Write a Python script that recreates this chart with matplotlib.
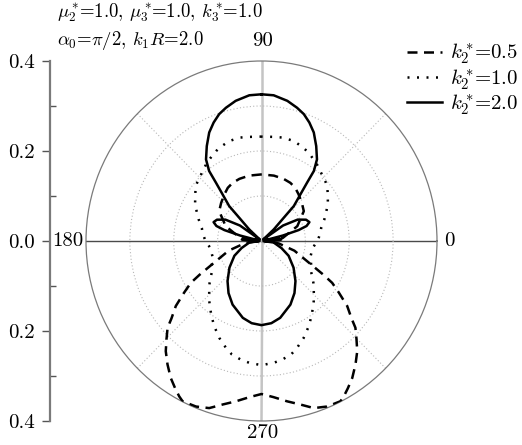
import numpy as np
import matplotlib
matplotlib.use("Agg")
import matplotlib.pyplot as plt
from matplotlib.ticker import FixedLocator

plt.rcParams['font.family'] = 'cmr10'
plt.rcParams['mathtext.fontset'] = 'cm'
plt.rcParams['axes.unicode_minus'] = False
plt.rcParams['font.size'] = 15

# far-field amplitude, left half (90..270 deg); the pattern is symmetric about 90-270
th_05 = [90, 101, 110, 117, 123, 129, 137.4, 145.5, 158, 172, 180, 188, 196, 204, 208,
         210, 213, 216.5, 220, 222, 225, 228.3, 232, 235.8, 239, 241.5, 243.2, 247.9,
         252.2, 256.3, 260.7, 265.5, 270]
r_05 = [0.148, 0.148, 0.147, 0.145, 0.141, 0.134, 0.125, 0.117, 0.088, 0.049, 0.01, 0.04,
        0.078, 0.118, 0.16, 0.186, 0.21, 0.243, 0.268, 0.288, 0.306, 0.328, 0.348, 0.368,
        0.382, 0.393, 0.399, 0.397, 0.39, 0.374, 0.361, 0.348, 0.34]

th_10 = [90, 96.8, 102, 108.3, 114, 117.4, 121, 126.6, 133, 137.5, 141, 145.6, 151,
         155.9, 161.5, 168, 172, 178.5, 187.5, 190.8, 198, 205, 210.6, 218, 221, 228.3,
         235, 240.4, 246, 251.2, 255, 260, 264, 270]
r_10 = [0.232, 0.233, 0.235, 0.234, 0.229, 0.225, 0.22, 0.212, 0.202, 0.197, 0.193, 0.183,
        0.173, 0.162, 0.151, 0.139, 0.136, 0.129, 0.118, 0.117, 0.117, 0.125, 0.131, 0.15,
        0.158, 0.179, 0.2, 0.218, 0.236, 0.251, 0.261, 0.268, 0.272, 0.276]

th_20 = [90, 94.9, 100.7, 105.3, 108.9, 112.5, 116.3, 120.6, 124.9, 127.5, 128.7, 130.6,
         133.5, 134.5, 137.4, 140, 145, 150, 155, 159, 162, 164, 166, 168, 172, 176, 180,
         183, 187, 199, 208, 219, 229, 237, 245, 256, 263, 270]
r_20 = [0.326, 0.325, 0.317, 0.307, 0.298, 0.285, 0.269, 0.245, 0.221, 0.196, 0.166,
        0.136, 0.107, 0.072, 0.038, 0.005, 0.06, 0.095, 0.112, 0.117, 0.108, 0.088, 0.05,
        0.01, 0.04, 0.045, 0.02, 0.005, 0.028, 0.048, 0.07, 0.094, 0.118, 0.138, 0.156,
        0.176, 0.184, 0.187]

labels = [r'$k_2^*\!$=0.5', r'$k_2^*\!$=1.0', r'$k_2^*\!$=2.0']
styles = [(0, (4, 2.6)), (0, (0.8, 3.0)), '-']


def full_pattern(th, r):
    # mirror the left half onto the right half
    th = np.array(th, dtype=float)
    r = np.array(r, dtype=float)
    th_all = np.concatenate([th, (180 - th[::-1][1:])])
    r_all = np.concatenate([r, r[::-1][1:]])
    return np.radians(th_all), r_all


W, H = 522, 445
fig = plt.figure(figsize=(W / 100, H / 100), dpi=100)

x0, x1, ytop, ybot = 86, 437, 61, 421
ax = fig.add_axes([x0 / W, 1 - ybot / H, (x1 - x0) / W, (ybot - ytop) / H],
                  projection='polar')
ax.set_aspect('auto')
ax.set_ylim(0, 0.4)
ax.set_rticks([0.1, 0.2, 0.3])
ax.set_yticklabels([])
ax.set_xticks(np.radians([45, 135, 225, 315]))
ax.set_xticklabels([])
ax.grid(True, color='#b8b8b8', ls=(0, (1, 2)), lw=0.8)
ax.spines['polar'].set_color('#7a7a7a')
ax.spines['polar'].set_linewidth(0.9)

# axis lines through the centre
ax.plot([np.pi / 2, np.pi / 2], [0, 0.4], color='#c4c4c4', lw=1.8, zorder=1)
ax.plot([3 * np.pi / 2, 3 * np.pi / 2], [0, 0.4], color='#c4c4c4', lw=1.8, zorder=1)
ax.plot([0, 0], [0, 0.4], color='#4a4a4a', lw=1.0, zorder=1)
ax.plot([np.pi, np.pi], [0, 0.4], color='#4a4a4a', lw=1.0, zorder=1)

handles = []
for (th, r), lab, ls in zip([(th_05, r_05), (th_10, r_10), (th_20, r_20)], labels, styles):
    t, rr = full_pattern(th, r)
    h, = ax.plot(t, rr, color='black', lw=1.8, ls=ls, label=lab, zorder=3)
    handles.append(h)


def px(x, y):
    return x / W, 1 - y / H


# angle labels
fig.text(*px(263, 41), '90', ha='center', va='center')
fig.text(*px(449, 241), '0', ha='center', va='center')
fig.text(*px(68, 241), '180', ha='center', va='center')
fig.text(*px(263, 433), '270', ha='center', va='center')

# radial scale on the left
ax2 = fig.add_axes([50 / W, 1 - ybot / H, 0.001, (ybot - ytop) / H])
ax2.set_ylim(-0.4, 0.4)
for s in ['top', 'right', 'bottom']:
    ax2.spines[s].set_visible(False)
ax2.spines['left'].set_color('#7a7a7a')
ax2.spines['left'].set_linewidth(1.6)
ax2.set_xticks([])
ax2.set_yticks([-0.4, -0.2, 0.0, 0.2, 0.4])
ax2.set_yticklabels(['0.4', '0.2', '0.0', '0.2', '0.4'])
ax2.yaxis.set_minor_locator(FixedLocator([-0.3, -0.1, 0.1, 0.3]))
ax2.tick_params(axis='y', which='major', length=6, width=1.0, color='#555555', pad=5)
ax2.tick_params(axis='y', which='minor', length=4, width=1.0, color='#555555',
                direction='in')
ax2.patch.set_visible(False)

fig.text(*px(57, 13), r'$\mu_2^*\!$=1.0, $\mu_3^*\!$=1.0, $k_3^*\!$=1.0',
         ha='left', va='center', fontsize=13.5)
fig.text(*px(57, 40), r'$\alpha_0$=$\pi/2$, $k_1R$=2.0', ha='left', va='center',
         fontsize=13.5)

fig.legend(handles=handles, loc='upper left', bbox_to_anchor=(407 / W, 1 - 42 / H),
           frameon=False, handlelength=1.7, handletextpad=0.35, labelspacing=0.05,
           borderaxespad=0, borderpad=0)

fig.savefig('out.png', dpi=100)
